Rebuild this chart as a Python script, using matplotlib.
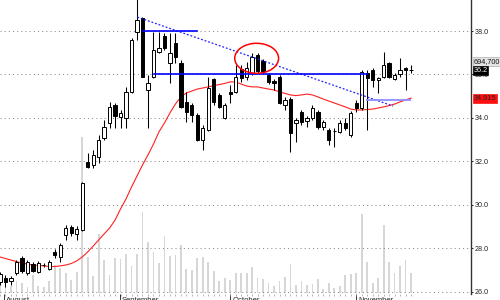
import matplotlib
matplotlib.use('Agg')
import matplotlib.pyplot as plt
import matplotlib.transforms as mtransforms
from matplotlib.patches import Ellipse
import numpy as np

# ---------------- data ----------------
opens = [26.46, 26.66, 26.51, 26.87, 27.56, 26.87, 27.29, 26.92, 27.24, 27.06,
         27.84, 27.61, 28.62, 28.99, 28.67, 28.85, 31.99, 31.84, 32.22, 33.07,
         33.76, 34.60, 34.06, 33.99, 35.21, 37.97, 38.58, 35.29, 35.90, 37.03,
         37.77, 36.53, 37.45, 36.53, 34.74, 34.60, 34.14, 32.99, 33.45, 35.79,
         35.06, 33.99, 35.21, 35.21, 36.25, 35.89, 36.07, 36.90, 36.62, 35.98,
         35.70, 35.89, 34.60, 34.87, 33.78, 34.29, 33.86, 34.00, 34.29, 33.59,
         33.45, 33.40, 33.37, 33.76, 33.22, 34.68, 34.45, 36.07, 36.21, 35.75,
         35.90, 36.52, 35.79, 36.02, 36.29, 36.20]
highs = [26.92, 26.78, 26.74, 27.47, 27.66, 27.47, 27.38, 27.43, 27.33, 27.47,
         27.98, 28.25, 29.08, 29.08, 29.03, 31.06, 32.39, 32.53, 33.22, 33.91,
         34.75, 34.69, 34.37, 35.44, 37.68, 39.45, 38.64, 35.98, 37.97, 37.97,
         37.91, 37.91, 37.91, 36.67, 35.20, 34.69, 34.23, 33.68, 35.89, 35.84,
         35.15, 34.69, 35.52, 36.44, 36.44, 36.57, 36.99, 36.99, 36.71, 36.07,
         35.79, 35.98, 34.97, 34.97, 34.00, 34.37, 34.09, 34.60, 34.37, 33.91,
         33.54, 33.54, 33.91, 34.00, 34.32, 34.83, 36.21, 36.21, 36.30, 35.89,
         37.05, 36.57, 36.07, 36.76, 36.35, 36.44]
lows = [26.32, 26.23, 26.32, 26.78, 26.87, 26.78, 26.92, 26.87, 27.15, 27.01,
        27.56, 27.38, 28.39, 28.57, 28.39, 28.80, 31.70, 31.70, 31.93, 32.99,
        33.53, 33.54, 33.54, 33.53, 35.15, 37.59, 35.89, 33.54, 35.84, 36.99,
        37.13, 35.61, 36.53, 34.46, 33.82, 33.82, 32.94, 32.53, 33.40, 34.60,
        34.46, 33.95, 34.69, 35.15, 35.66, 35.75, 35.98, 36.07, 36.07, 35.56,
        35.29, 34.64, 34.37, 32.44, 32.90, 33.68, 33.59, 33.91, 33.49, 33.45,
        32.76, 32.67, 33.31, 33.45, 33.13, 34.28, 34.37, 33.45, 35.43, 35.15,
        35.84, 35.84, 35.75, 35.89, 35.29, 36.07]
closes = [26.83, 26.47, 26.64, 27.38, 26.97, 27.38, 26.97, 27.33, 27.26, 27.38,
          27.70, 28.16, 28.94, 28.71, 28.90, 31.01, 31.76, 32.30, 32.99, 33.60,
          34.52, 34.09, 34.22, 35.21, 37.59, 38.51, 35.90, 35.61, 37.13, 37.22,
          37.22, 36.99, 36.80, 34.51, 34.28, 34.14, 32.99, 33.54, 35.37, 34.75,
          34.52, 34.60, 35.10, 35.90, 35.84, 36.30, 36.80, 36.16, 36.16, 35.66,
          35.61, 34.69, 34.83, 33.31, 33.91, 33.83, 34.00, 34.46, 33.60, 33.82,
          32.99, 33.42, 33.76, 33.53, 34.22, 34.45, 36.11, 35.84, 35.75, 35.84,
          36.44, 35.90, 35.98, 36.21, 36.21, 36.20]
volume_k = [278, 347, 243, 417, 347, 208, 625, 243, 208, 417,
            972, 868, 695, 451, 729, 5419, 1250, 590, 2049, 1146,
            625, 1216, 1181, 1355, 938, 1355, 2814, 1772, 1424, 1042,
            1980, 1285, 1320, 1667, 834, 799, 1216, 1250, 1077, 764,
            417, 521, 451, 695, 695, 695, 903, 521, 486, 347,
            243, 417, 556, 1007, 278, 417, 278, 313, 486, 139,
            347, 174, 243, 625, 660, 695, 2744, 1077, 347, 521,
            2362, 1077, 695, 938, 1146, 694.7]
ma = [27.61, 27.54, 27.47, 27.40, 27.33, 27.29, 27.24, 27.22, 27.20, 27.17,
      27.17, 27.20, 27.24, 27.31, 27.43, 27.61, 27.84, 28.11, 28.39, 28.67,
      28.94, 29.31, 29.82, 30.28, 30.83, 31.33, 31.84, 32.30, 32.80, 33.36,
      33.77, 34.23, 34.64, 34.97, 35.15, 35.24, 35.33, 35.38, 35.43, 35.49,
      35.54, 35.59, 35.66, 35.66, 35.56, 35.47, 35.43, 35.43, 35.38, 35.33,
      35.29, 35.20, 35.13, 35.06, 35.03, 35.06, 35.10, 35.06, 34.97, 34.87,
      34.78, 34.69, 34.60, 34.51, 34.41, 34.37, 34.37, 34.39, 34.41, 34.46,
      34.51, 34.57, 34.64, 34.74, 34.83, 34.915]

month_labels = ['August', 'September', 'October', 'November']
month_pos = [0.75, 21.82, 42.04, 64.99]
price_ticks = [26.0, 28.0, 30.0, 32.0, 34.0, 36.0, 38.0]

# annotation lines (index, price)
trend_dotted_x, trend_dotted_y = [25.05, 71.73], [38.64, 34.55]
resist_x, resist_y = [26.1, 35.98], [38.0, 38.0]
support_x, support_y = [28.07, 66.94], [36.02, 36.02]
support2_x, support2_y = [66.94, 74.8], [34.83, 34.83]
ellipse_center, ellipse_w, ellipse_h = (46.83, 36.745), 8.0, 1.38

last_volume_label = '694,700'
last_price_label = '36.2'
ma_label = '34.915'

# ---------------- figure ----------------
W, H = 500, 300
fig = plt.figure(figsize=(5, 3), dpi=100)
rect = [0, 1 - 294 / H, 471 / W, 294 / H]
axv = fig.add_axes(rect)
axp = fig.add_axes(rect, sharex=axv)
axp.patch.set_visible(False)

n = len(opens)
idx = np.arange(n)
xlim = (0.146, 85.94)

# volume
axv.bar(idx, volume_k, width=0.32, color='#d6d6d6', linewidth=0)
axv.set_ylim(-34.7, 10177)
axv.set_xlim(*xlim)
axv.axis('off')

# grid
for t in price_ticks:
    axp.axhline(t, color='#8c8c8c', linestyle=(0, (1, 3)), linewidth=0.75, zorder=0)

# MA
axp.plot(idx, ma, color='#ff2020', linewidth=0.8, zorder=2)

# candles
o = np.array(opens); c = np.array(closes)
axp.vlines(idx, lows, highs, color='black', linewidth=0.75, zorder=3)
up = c >= o
bottoms = np.minimum(o, c)
heights = np.maximum(np.abs(c - o), 0.01)
axp.bar(idx[up], heights[up], bottom=bottoms[up], width=0.6, color='white',
        edgecolor='black', linewidth=0.7, zorder=4)
axp.bar(idx[~up], heights[~up], bottom=bottoms[~up], width=0.6, color='black',
        edgecolor='black', linewidth=0.7, zorder=4)

# trend lines
axp.plot(trend_dotted_x, trend_dotted_y, color='#2020ff', linewidth=0.9,
         linestyle=(0, (1.5, 1.5)), zorder=5)
axp.plot(resist_x, resist_y, color='#0000ff', linewidth=1.2, zorder=5)
axp.plot(support_x, support_y, color='#0000ff', linewidth=1.2, zorder=5)
axp.plot(support2_x, support2_y, color='#8f8fff', linewidth=1.3, zorder=5)
axp.add_patch(Ellipse(ellipse_center, ellipse_w, ellipse_h, facecolor='none',
                      edgecolor='#ff0000', linewidth=1.1, zorder=6))

axp.set_xlim(*xlim)
axp.set_ylim(25.908, 39.4253)

for s in ['top', 'left', 'bottom']:
    axp.spines[s].set_visible(False)
axp.spines['right'].set_color('#333333')
axp.spines['right'].set_linewidth(1.0)

axp.yaxis.tick_right()
axp.set_yticks(price_ticks)
axp.set_yticklabels(['%.1f' % t for t in price_ticks], fontsize=5.2,
                    family='Liberation Sans', color='#222222')
axp.tick_params(axis='y', length=1.5, width=0.6, pad=1.5)

axp.set_xticks(month_pos)
axp.set_xticklabels([])
axp.set_xticks(idx, minor=True)
axp.tick_params(axis='x', which='major', length=4, width=0.7, color='#333333')
axp.tick_params(axis='x', which='minor', length=1.5, width=0.5, color='#999999')

trans = mtransforms.blended_transform_factory(axp.transData, axp.transAxes)
for lab, pos in zip(month_labels, month_pos):
    axp.text(pos + 0.35, -3.2 / 294, lab, transform=trans, ha='left', va='top',
             fontsize=5.5, family='Liberation Sans', color='#222222')

# right-side value boxes
tb = mtransforms.blended_transform_factory(axp.transAxes, axp.transData)
xb = 473.5 / 471
axp.text(xb, 36.60, last_volume_label, transform=tb, ha='left', va='center',
         fontsize=5.2, family='Liberation Sans', color='#111111', zorder=10,
         bbox=dict(boxstyle='square,pad=0.12', facecolor='#e4e4e4',
                   edgecolor='#b0b0b0', linewidth=0.5))
axp.text(xb, 36.18, last_price_label, transform=tb, ha='left', va='center',
         fontsize=5.2, family='Liberation Sans', color='white', zorder=10,
         bbox=dict(boxstyle='square,pad=0.12', facecolor='black',
                   edgecolor='black', linewidth=0.5))
axp.text(xb, 34.88, ma_label, transform=tb, ha='left', va='center',
         fontsize=5.2, family='Liberation Sans', color='#222222', zorder=10,
         bbox=dict(boxstyle='square,pad=0.12', facecolor='#ff1010',
                   edgecolor='#ff1010', linewidth=0.5))

fig.savefig('out.png', dpi=100)
